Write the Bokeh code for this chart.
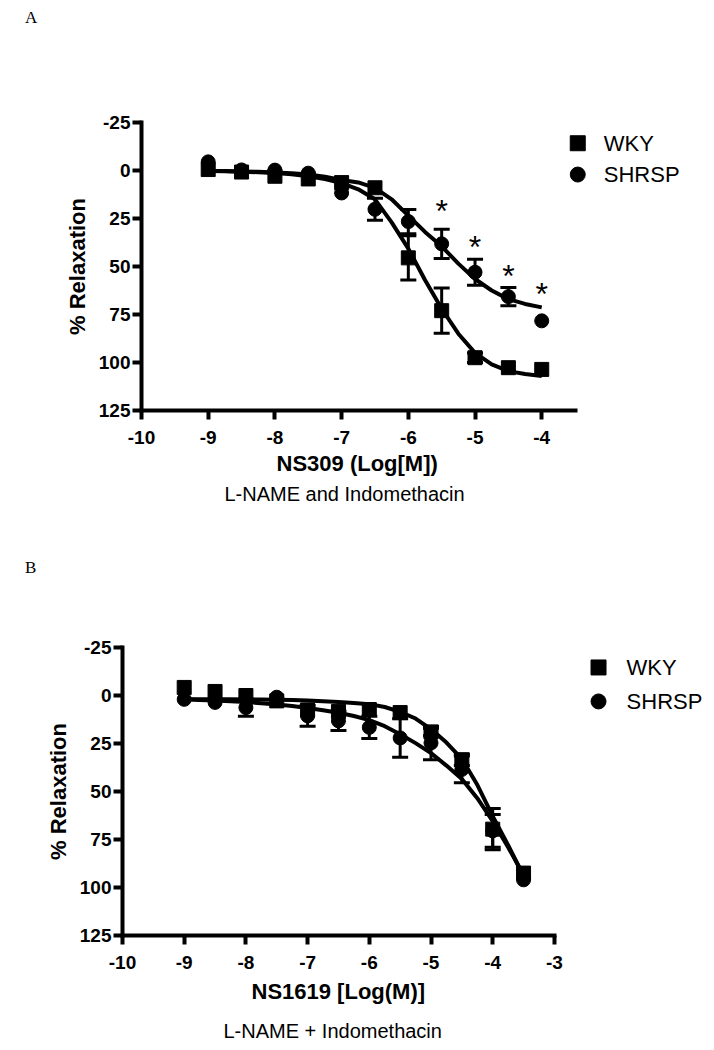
from bokeh.plotting import figure
from bokeh.models import Range1d, FixedTicker, Whisker, ColumnDataSource, Title, Div, TeeHead
from bokeh.layouts import column
from bokeh.core.properties import value
from bokeh.embed import file_html
from bokeh.resources import INLINE

# ---------------- Panel A : NS309, L-NAME and Indomethacin ----------------
a_conc = [-9, -8.5, -8, -7.5, -7, -6.5, -6, -5.5, -5, -4.5, -4]
a_wky = [-0.5, 0.8, 3.0, 4.4, 6.3, 9.0, 45.5, 73.0, 97.5, 102.7, 103.6]
a_wky_sem = [0, 0, 0, 0, 0, 0, 11.5, 11.8, 2.5, 0, 0]
a_shrsp = [-4.5, -0.3, -0.2, 1.4, 11.7, 20.2, 26.6, 38.2, 53.0, 65.7, 78.3]
a_shrsp_sem = [0, 0, 0, 0, 0, 5.7, 6.3, 7.6, 6.8, 4.7, 0]
a_star_conc = [-5.5, -5, -4.5, -4]
a_star_y = [21.0, 39.8, 55.0, 64.5]
a_fit_x = [-9, -8.75, -8.5, -8.25, -8, -7.75, -7.5, -7.25, -7, -6.75, -6.5,
           -6.25, -6, -5.75, -5.5, -5.25, -5, -4.75, -4.5, -4.25, -4]
a_fit_wky = [0.3, 0.4, 0.6, 0.9, 1.3, 2.0, 3.0, 4.5, 6.6, 9.8, 15.0,
             27.0, 40.7, 57.0, 72.0, 85.0, 95.0, 101.0, 104.5, 106.0, 107.0]
a_fit_shrsp = [0.2, 0.3, 0.5, 0.7, 1.0, 1.4, 2.1, 3.2, 4.9, 6.2, 9.0,
               15.0, 23.5, 32.0, 39.5, 48.5, 56.5, 62.5, 67.0, 69.5, 71.3]
a_xticks = [-10, -9, -8, -7, -6, -5, -4]
a_xtick_labels = ["-10", "-9", "-8", "-7", "-6", "-5", "-4"]

# ---------------- Panel B : NS1619, L-NAME + Indomethacin ----------------
b_conc = [-9, -8.5, -8, -7.5, -7, -6.5, -6, -5.5, -5, -4.5, -4, -3.5]
b_wky = [-4.2, -2.1, 0.0, 2.8, 7.5, 8.3, 7.3, 8.9, 19.0, 33.5, 69.6, 92.5]
b_wky_sem = [0, 0, 0, 0, 0, 0, 0, 0, 2.0, 3.0, 10.7, 0]
b_shrsp = [2.0, 3.6, 6.3, 0.9, 10.6, 13.2, 16.6, 22.1, 24.7, 38.5, 70.5, 96.0]
b_shrsp_sem = [0, 0, 4.5, 0, 5.4, 5.0, 5.8, 10.0, 8.7, 7.0, 8.5, 0]
b_fit_x = [-9, -8.75, -8.5, -8.25, -8, -7.75, -7.5, -7.25, -7, -6.75, -6.5, -6.25,
           -6, -5.75, -5.5, -5.25, -5, -4.75, -4.5, -4.25, -4, -3.75, -3.5]
b_fit_wky = [2.0, 2.0, 2.0, 2.0, 2.1, 2.1, 2.2, 2.4, 2.6, 3.0, 3.4, 3.9,
             4.5, 6.0, 8.5, 12.0, 17.5, 24.5, 33.0, 46.5, 62.8, 78.0, 94.0]
b_fit_shrsp = [2.0, 2.3, 2.6, 3.0, 3.4, 4.0, 4.7, 5.5, 6.5, 7.7, 9.0, 10.7,
               12.8, 16.0, 20.2, 24.8, 30.0, 36.5, 43.5, 53.5, 65.5, 79.0, 93.5]
b_xticks = [-10, -9, -8, -7, -6, -5, -4, -3]
b_xtick_labels = ["-10", "-9", "-8", "-7", "-6", "-5", "-4", "-3"]

y_ticks = [-25, 0, 25, 50, 75, 100, 125]
y_tick_labels = ["-25", "0", "25", "50", "75", "100", "125"]
series_names = ["WKY", "SHRSP"]

SANS = "Liberation Sans"


def whisker_source(xs, ys, sems):
    keep = [(x, y, s) for x, y, s in zip(xs, ys, sems) if s > 0]
    return ColumnDataSource(dict(
        x=[k[0] for k in keep],
        upper=[k[1] - k[2] for k in keep],
        lower=[k[1] + k[2] for k in keep],
    ))


def build(conc, wky, wky_sem, shrsp, shrsp_sem, fit_x, fit_wky, fit_shrsp,
          xticks, xlabels, x_end, axis_end, height, b_left, b_top, b_bottom,
          xlabel, xlabel_offset, xlabel_standoff, sub, sub_offset, sub_standoff,
          leg_mx, leg_tx, leg_y, star_x=None, star_y=None):
    p = figure(width=698, height=height,
               x_range=Range1d(-10, x_end), y_range=Range1d(125, -25),
               output_backend="svg", toolbar_location=None,
               min_border_left=b_left, min_border_right=0,
               min_border_top=b_top, min_border_bottom=b_bottom,
               margin=(0, 0, 0, 0), frame_align=False)
    p.outline_line_color = None
    p.xgrid.visible = False
    p.ygrid.visible = False
    p.background_fill_color = "white"
    p.border_fill_color = "white"

    for ax in (p.xaxis[0], p.yaxis[0]):
        ax.axis_line_width = 4
        ax.axis_line_color = "black"
        ax.axis_line_cap = "square"
        ax.major_tick_line_width = 4
        ax.major_tick_line_color = "black"
        ax.major_tick_out = 9
        ax.major_tick_in = 0
        ax.minor_tick_out = 0
        ax.minor_tick_in = 0
        ax.major_label_text_font = SANS
        ax.major_label_text_font_style = "bold"
        ax.major_label_text_font_size = "19px"
        ax.major_label_text_color = "black"

    p.xaxis.bounds = (-10, axis_end)
    p.xaxis.ticker = FixedTicker(ticks=xticks)
    p.xaxis.major_label_overrides = {t: l for t, l in zip(xticks, xlabels)}
    p.xaxis.major_label_standoff = 11

    p.yaxis.ticker = FixedTicker(ticks=y_ticks)
    p.yaxis.major_label_overrides = {t: l for t, l in zip(y_ticks, y_tick_labels)}
    p.yaxis.major_label_standoff = 2
    p.yaxis.axis_label = "% Relaxation"
    p.yaxis.axis_label_text_font = SANS
    p.yaxis.axis_label_text_font_style = "bold"
    p.yaxis.axis_label_text_font_size = "22px"
    p.yaxis.axis_label_text_color = "black"
    p.yaxis.axis_label_standoff = 6

    t1 = Title(text=xlabel, align="left", offset=xlabel_offset, text_font=SANS,
               text_font_style="bold", text_font_size="22px", text_color="black",
               standoff=xlabel_standoff)
    p.add_layout(t1, "below")
    t2 = Title(text=sub, align="left", offset=sub_offset, text_font=SANS,
               text_font_style="normal", text_font_size="20px", text_color="black",
               standoff=sub_standoff)
    p.add_layout(t2, "below")

    # error bars
    for xs, ys, ss in ((conc, wky, wky_sem), (conc, shrsp, shrsp_sem)):
        src = whisker_source(xs, ys, ss)
        w = Whisker(source=src, base="x", upper="upper", lower="lower", dimension="height",
                    line_width=3, line_color="black",
                    upper_head=TeeHead(size=16, line_width=3, line_color="black"),
                    lower_head=TeeHead(size=16, line_width=3, line_color="black"))
        w.level = "glyph"
        p.add_layout(w)

    # fitted curves
    p.line(fit_x, fit_wky, line_width=4, line_color="black")
    p.line(fit_x, fit_shrsp, line_width=4, line_color="black")

    # points
    p.scatter(conc, wky, marker="square", size=14, fill_color="black", line_color="black")
    p.scatter(conc, shrsp, marker="circle", size=14, fill_color="black", line_color="black")

    if star_x is not None:
        p.text(star_x, star_y, text=["*"] * len(star_x), text_font=value(SANS),
               text_font_size="32px", text_align="center", text_baseline="middle",
               y_offset=0, text_color="black")

    # legend
    p.scatter([leg_mx], [leg_y[0]], marker="square", size=15, fill_color="black", line_color="black")
    p.scatter([leg_mx], [leg_y[1]], marker="circle", size=15, fill_color="black", line_color="black")
    p.text([leg_tx, leg_tx], leg_y, text=series_names, text_font=value(SANS),
           text_font_size="22px", text_align="left", text_baseline="middle", text_color="black")
    return p


pa = build(a_conc, a_wky, a_wky_sem, a_shrsp, a_shrsp_sem, a_fit_x, a_fit_wky, a_fit_shrsp,
           a_xticks, a_xtick_labels, x_end=-1.53, axis_end=-3.5, height=520,
           b_left=133, b_top=84, b_bottom=148,
           xlabel="NS309 (Log[M])", xlabel_offset=135, xlabel_standoff=4,
           sub="L-NAME and Indomethacin", sub_offset=83, sub_standoff=6,
           leg_mx=-3.46, leg_tx=-3.07, leg_y=[-14.2, 2.1],
           star_x=a_star_conc, star_y=a_star_y)

pb = build(b_conc, b_wky, b_wky_sem, b_shrsp, b_shrsp_sem, b_fit_x, b_fit_wky, b_fit_shrsp,
           b_xticks, b_xtick_labels, x_end=-0.535, axis_end=-3, height=467,
           b_left=114, b_top=64, b_bottom=115,
           xlabel="NS1619 [Log(M)]", xlabel_offset=129, xlabel_standoff=10,
           sub="L-NAME + Indomethacin", sub_offset=101, sub_standoff=18,
           leg_mx=-2.285, leg_tx=-1.83, leg_y=[-14.6, 3.1])

letter_style = "padding-left:17px;padding-top:1px;font-family:'Liberation Serif';font-size:17px;line-height:17px;color:black"
div_a = Div(text=f'<div style="{letter_style}">A</div>', width=698, height=30, margin=(0, 0, 0, 0))
div_b = Div(text=f'<div style="{letter_style}">B</div>', width=698, height=25, margin=(0, 0, 0, 0))

layout = column(div_a, pa, div_b, pb, spacing=0, margin=(8, 0, 0, 8))

open("out.html", "w").write(file_html(layout, INLINE))
